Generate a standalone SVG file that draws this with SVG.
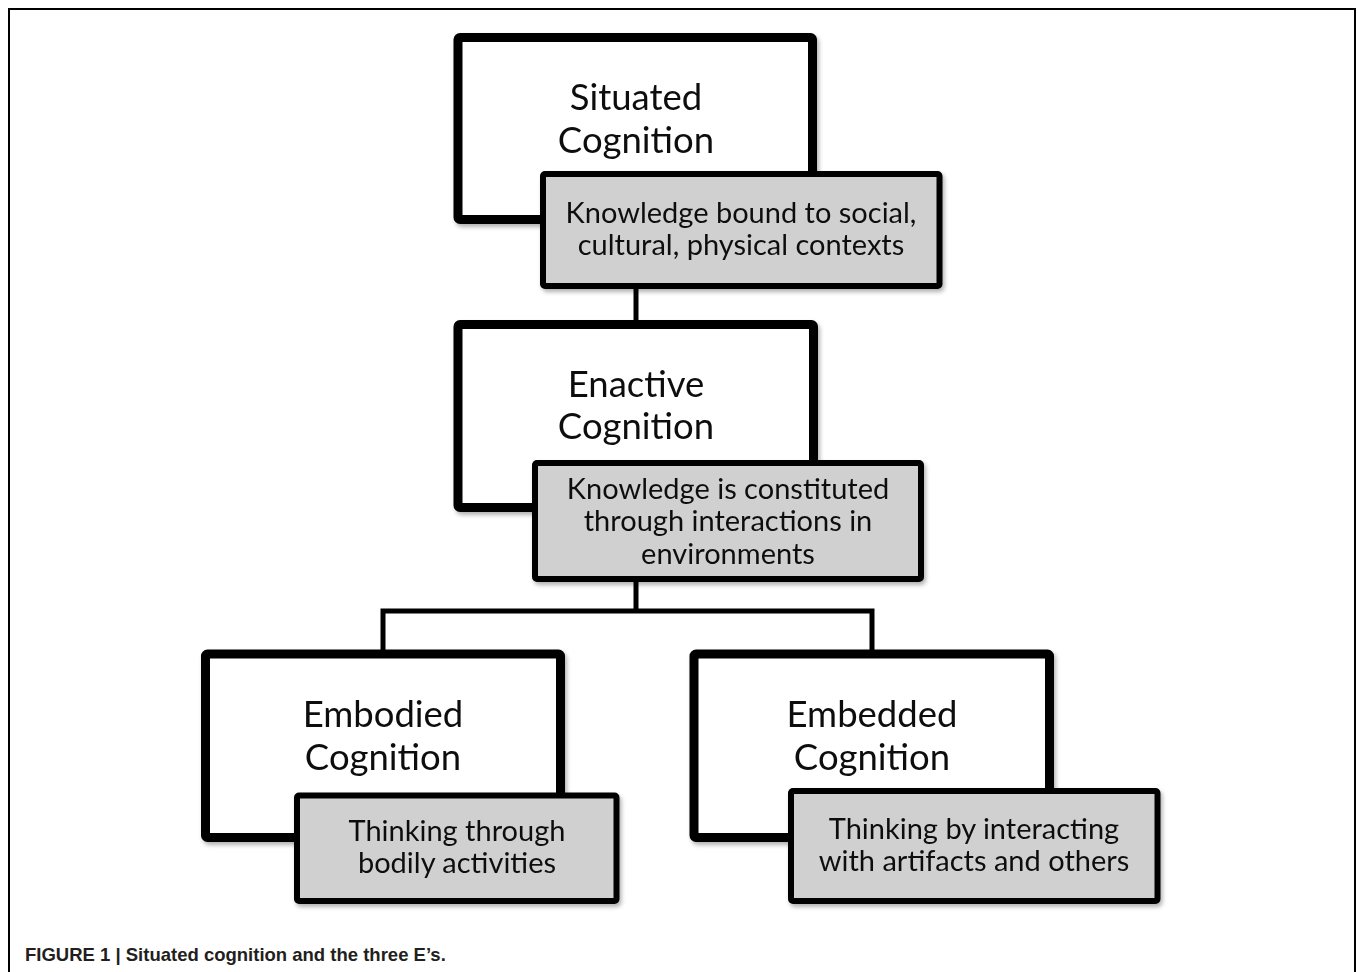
<svg xmlns="http://www.w3.org/2000/svg" width="1358" height="972" viewBox="0 0 1358 972">
<style>
.main{fill:#ffffff;stroke:#000;stroke-width:9;stroke-linejoin:round}
.sub{fill:#d0d0d0;stroke:#000;stroke-width:6;stroke-linejoin:round}
.conn{fill:none;stroke:#000;stroke-width:5}
.t1{font-family:Lato,"Open Sans","Liberation Sans",sans-serif;font-size:36.5px;fill:#111;text-anchor:middle}
.t2{font-family:Lato,"Open Sans","Liberation Sans",sans-serif;font-size:29px;fill:#111;text-anchor:middle}
.cap{font-family:"Liberation Sans",Arial,sans-serif;font-size:18.5px;font-weight:bold;fill:#231f20}
</style>
<defs>
<filter id="sh" x="-5%" y="-5%" width="115%" height="120%">
<feDropShadow dx="2" dy="3" stdDeviation="2" flood-color="#000" flood-opacity="0.3"/>
</filter>
</defs>
<rect x="0" y="0" width="1358" height="972" fill="#ffffff"/>
<path d="M9,972 V9 H1355 V972" fill="none" stroke="#000" stroke-width="2"/>
<g id="connectors">
<line class="conn" x1="636" y1="286" x2="636" y2="325"/>
<path class="conn" d="M636,579 V611 M383,654 V611 H872 V654"/>
</g>
<g id="situated" filter="url(#sh)">
<rect class="main" x="458" y="37.5" width="354.5" height="182" rx="2"/>
<text class="t1" x="636" y="110">Situated<tspan x="636" dy="43">Cognition</tspan></text>
</g>
<g id="situated-desc" filter="url(#sh)">
<rect class="sub" x="543" y="174" width="396.5" height="112" rx="2"/>
<text class="t2" x="741" y="223">Knowledge bound to social,<tspan x="741" dy="32">cultural, physical contexts</tspan></text>
</g>
<g id="enactive" filter="url(#sh)">
<rect class="main" x="458" y="324.5" width="355.5" height="183" rx="2"/>
<text class="t1" x="636" y="397">Enactive<tspan x="636" dy="42">Cognition</tspan></text>
</g>
<g id="enactive-desc" filter="url(#sh)">
<rect class="sub" x="535" y="463" width="386" height="116" rx="2"/>
<text class="t2" x="728" y="499">Knowledge is constituted<tspan x="728" dy="32">through interactions in</tspan><tspan x="728" dy="33">environments</tspan></text>
</g>
<g id="embodied" filter="url(#sh)">
<rect class="main" x="205.5" y="654" width="355" height="183.5" rx="2"/>
<text class="t1" x="383" y="727">Embodied<tspan x="383" dy="43">Cognition</tspan></text>
</g>
<g id="embodied-desc" filter="url(#sh)">
<rect class="sub" x="297" y="795.5" width="319.5" height="105.5" rx="2"/>
<text class="t2" x="457" y="841">Thinking through<tspan x="457" dy="32">bodily activities</tspan></text>
</g>
<g id="embedded" filter="url(#sh)">
<rect class="main" x="694" y="654" width="355.5" height="183.5" rx="2"/>
<text class="t1" x="872" y="727">Embedded<tspan x="872" dy="43">Cognition</tspan></text>
</g>
<g id="embedded-desc" filter="url(#sh)">
<rect class="sub" x="791" y="791" width="366.5" height="110" rx="2"/>
<text class="t2" x="974" y="839">Thinking by interacting<tspan x="974" dy="32">with artifacts and others</tspan></text>
</g>
<text class="cap" x="25" y="961">FIGURE 1 | Situated cognition and the three E’s.</text>
</svg>
